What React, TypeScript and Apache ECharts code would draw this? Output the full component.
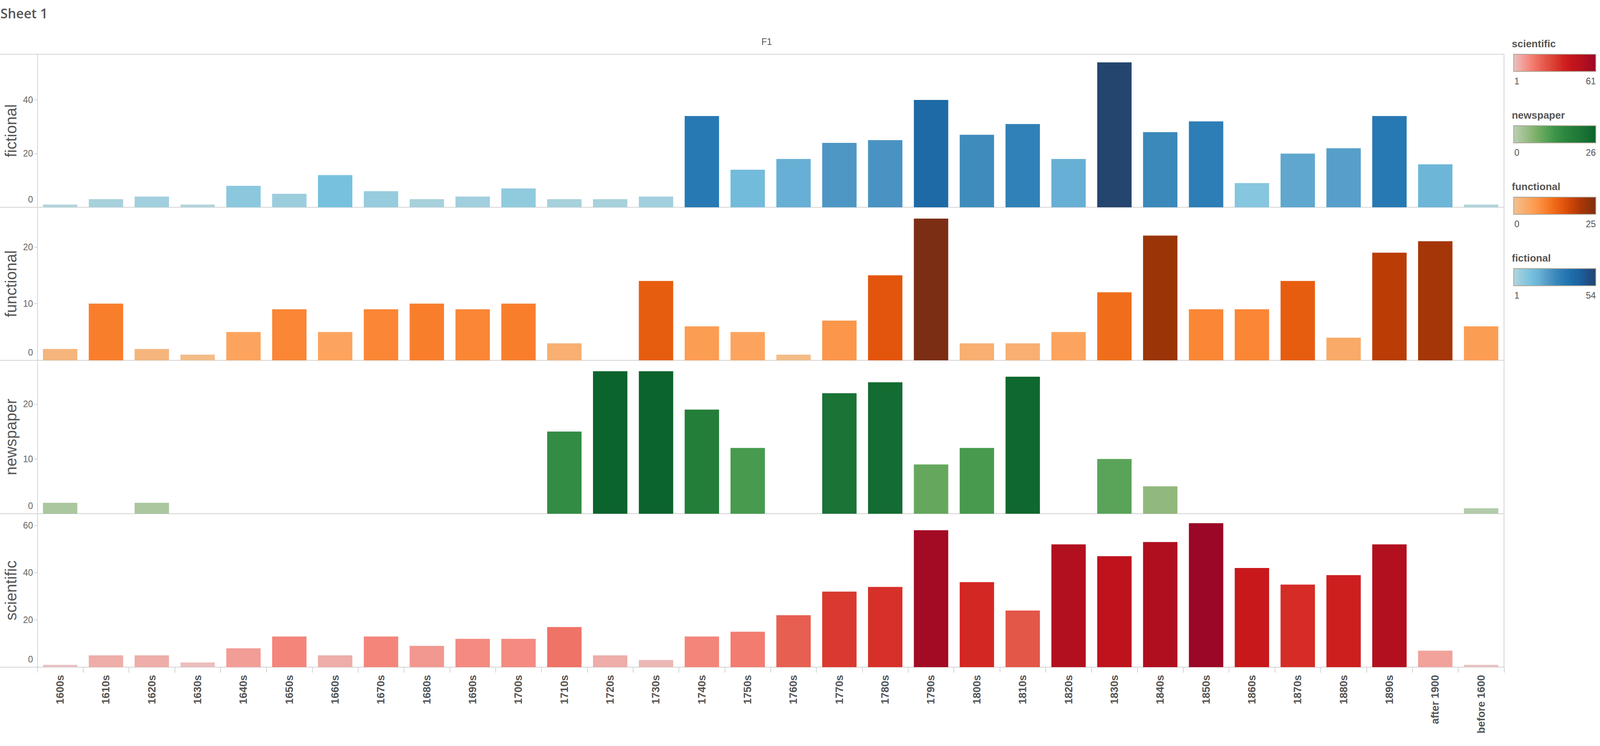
import React, { useEffect, useRef, useState } from "react";
import * as echarts from "echarts";

// ---------- data ----------
const categories = [
  "1600s", "1610s", "1620s", "1630s", "1640s", "1650s", "1660s", "1670s",
  "1680s", "1690s", "1700s", "1710s", "1720s", "1730s", "1740s", "1750s",
  "1760s", "1770s", "1780s", "1790s", "1800s", "1810s", "1820s", "1830s",
  "1840s", "1850s", "1860s", "1870s", "1880s", "1890s", "after 1900", "before 1600",
];

const fictional = [1, 3, 4, 1, 8, 5, 12, 6, 3, 4, 7, 3, 3, 4, 34, 14, 18, 24, 25, 40, 27, 31, 18, 54, 28, 32, 9, 20, 22, 34, 16, 1];
const functional = [2, 10, 2, 1, 5, 9, 5, 9, 10, 9, 10, 3, 0, 14, 6, 5, 1, 7, 15, 25, 3, 3, 5, 12, 22, 9, 9, 14, 4, 19, 21, 6];
const newspaper = [2, null, 2, null, null, null, null, null, null, null, null, 15, 26, 26, 19, 12, null, 22, 24, 9, 12, 25, null, 10, 5, null, null, null, null, null, null, 1];
const scientific = [1, 5, 5, 2, 8, 13, 5, 13, 9, 12, 12, 17, 5, 3, 13, 15, 22, 32, 34, 58, 36, 24, 52, 47, 53, 61, 42, 35, 39, 52, 7, 1];

const rowNames = ["fictional", "functional", "newspaper", "scientific"];
const rowData = [fictional, functional, newspaper, scientific];
const axisMax = [57, 27, 28, 65];
const axisInterval = [20, 10, 10, 20];
const tickValues = [[0, 20, 40], [0, 10, 20], [0, 10, 20], [0, 20, 40, 60]];

// colour ranges (legend min / max)
const colorMin = [1, 0, 0, 1];
const colorMax = [54, 25, 26, 61];

const fictionalColors = ["#b3d5dc", "#94cbdd", "#79c2df", "#6bb3d7", "#569ec9", "#3d8abb", "#2a7cb5", "#1e6eaa", "#1b63a0", "#1f5088", "#24456e"];
const functionalColors = ["#f1c292", "#f6b277", "#fca45e", "#fc9345", "#f87e2c", "#ee6a17", "#e3550c", "#cc4507", "#af3805", "#963409", "#7c2e15"];
const newspaperColors = ["#bacfb5", "#a5c498", "#8fb87b", "#72ad63", "#56a257", "#3d9549", "#2f8941", "#25803b", "#1f7837", "#166e32", "#0b642d"];
const scientificColors = ["#e8c3c3", "#f1a29b", "#f4857a", "#ed6a5c", "#e15345", "#da3d31", "#d22321", "#c6161b", "#ba121d", "#ab0d21", "#9b0726"];
const rowColors = [fictionalColors, functionalColors, newspaperColors, scientificColors];

// legend order (top to bottom)
const legendOrder = [3, 2, 1, 0];

// ---------- layout (reference pixels, mapped onto the viewport) ----------
const REF_W = 7602;
const REF_H = 1911;
const PLOT_LEFT = 139;
const PLOT_RIGHT = 7146;
const gridTops = [139, 531, 923, 1316];
const gridHeights = [392, 392, 393, 393];
const LINE = "#d4d4d4";
const TEXT = "#555555";
const FONT = "'Liberation Sans', Arial, sans-serif";

function buildOption(sx: number, sy: number) {
  const px = (v: number) => v * sx;
  const py = (v: number) => v * sy;
  const f = Math.sqrt(sx * sy);

  const grids = gridTops.map((t, i) => ({
    left: px(PLOT_LEFT),
    right: px(REF_W - PLOT_RIGHT),
    top: py(t),
    height: py(gridHeights[i]),
    containLabel: false,
  }));

  const xAxes = rowNames.map((_, i) => {
    const last = i === rowNames.length - 1;
    return {
      type: "category",
      gridIndex: i,
      data: categories,
      axisLine: { show: false },
      axisTick: last
        ? { show: true, length: py(14), lineStyle: { color: LINE, width: 2 } }
        : { show: false },
      axisLabel: last
        ? {
            show: true,
            rotate: 90,
            margin: py(20),
            fontSize: 27,
            fontWeight: "bold",
            color: TEXT,
            fontFamily: FONT,
            interval: 0,
          }
        : { show: false },
      splitLine: { show: false },
    };
  });

  const tickFont = Math.round(31 * f);
  const yAxes = rowNames.map((name, i) => ({
    type: "value",
    gridIndex: i,
    min: 0,
    max: axisMax[i],
    interval: axisInterval[i],
    name,
    nameLocation: "middle",
    nameRotate: 90,
    nameGap: 36,
    nameTextStyle: { fontSize: 40, color: TEXT, fontFamily: FONT },
    axisLine: { show: true, lineStyle: { color: LINE, width: 2 } },
    axisTick: {
      show: true,
      length: px(14),
      customValues: tickValues[i],
      lineStyle: { color: LINE, width: 2 },
    },
    axisLabel: {
      show: true,
      customValues: tickValues[i],
      margin: px(20),
      fontSize: tickFont,
      color: "#666666",
      fontFamily: FONT,
      formatter: (v: number) => (v === 0 ? "{z|0}" : String(v)),
      rich: {
        z: { padding: [0, 0, py(40), 0], fontSize: tickFont, color: "#666666", fontFamily: FONT },
      },
    },
    splitLine: { show: false },
  }));

  const series = rowNames.map((name, i) => ({
    type: "bar",
    name,
    xAxisIndex: i,
    yAxisIndex: i,
    data: rowData[i],
    barCategoryGap: "25%",
  }));

  const visualMaps = rowNames.map((_, i) => ({
    type: "continuous",
    show: false,
    seriesIndex: i,
    min: colorMin[i],
    max: colorMax[i],
    inRange: { color: rowColors[i] },
  }));

  const graphic: any[] = [];
  graphic.push({
    type: "text",
    x: px(2),
    y: py(34),
    style: {
      text: "Sheet 1",
      font: `600 ${Math.round(46 * f)}px 'Open Sans', sans-serif`,
      fill: TEXT,
      textVerticalAlign: "middle",
    },
  });
  graphic.push({
    type: "text",
    x: px((PLOT_LEFT + PLOT_RIGHT) / 2),
    y: py(107),
    style: {
      text: "F1",
      font: `${Math.round(31 * f)}px ${FONT}`,
      fill: TEXT,
      textAlign: "center",
      textVerticalAlign: "middle",
    },
  });
  const hLines = [...gridTops, gridTops[3] + gridHeights[3]];
  hLines.forEach((y) => {
    graphic.push({
      type: "line",
      shape: { x1: 0, y1: py(y), x2: px(PLOT_RIGHT), y2: py(y) },
      style: { stroke: LINE, lineWidth: 2 },
      z: 0,
    });
  });
  graphic.push({
    type: "line",
    shape: { x1: px(PLOT_RIGHT), y1: py(gridTops[0]), x2: px(PLOT_RIGHT), y2: py(hLines[4]) },
    style: { stroke: LINE, lineWidth: 2 },
    z: 0,
  });

  const LEG_X = 7183;
  const BAR_X = 7192;
  const BAR_W = 390;
  const legTitleFont = Math.round(35 * f);
  const legLabelFont = Math.round(31 * f);
  legendOrder.forEach((idx, k) => {
    const y0 = k * 183;
    const cols = rowColors[idx];
    graphic.push({
      type: "text",
      x: px(LEG_X),
      y: py(112 + y0),
      style: {
        text: rowNames[idx],
        font: `bold ${legTitleFont}px ${FONT}`,
        fill: TEXT,
        textVerticalAlign: "middle",
      },
    });
    graphic.push({
      type: "rect",
      shape: { x: px(BAR_X), y: py(139 + y0), width: px(BAR_W), height: py(44) },
      style: {
        fill: {
          type: "linear",
          x: 0,
          y: 0,
          x2: 1,
          y2: 0,
          colorStops: cols.map((c, j) => ({ offset: j / (cols.length - 1), color: c })),
        },
        stroke: "#aca595",
        lineWidth: 2,
      },
    });
    graphic.push({
      type: "text",
      x: px(BAR_X + 3),
      y: py(208 + y0),
      style: {
        text: String(colorMin[idx]),
        font: `${legLabelFont}px ${FONT}`,
        fill: TEXT,
        textVerticalAlign: "middle",
      },
    });
    graphic.push({
      type: "text",
      x: px(BAR_X + BAR_W),
      y: py(208 + y0),
      style: {
        text: String(colorMax[idx]),
        font: `${legLabelFont}px ${FONT}`,
        fill: TEXT,
        textAlign: "right",
        textVerticalAlign: "middle",
      },
    });
  });

  return {
    animation: false,
    backgroundColor: "#ffffff",
    textStyle: { fontFamily: FONT },
    grid: grids,
    xAxis: xAxes,
    yAxis: yAxes,
    visualMap: visualMaps,
    series,
    graphic,
  };
}

export default function App() {
  const ref = useRef<HTMLDivElement>(null);
  const [size] = useState(() => {
    const w = document.documentElement.clientWidth || window.innerWidth || REF_W;
    const h = window.innerHeight || document.documentElement.clientHeight || REF_H;
    return { w, h };
  });

  useEffect(() => {
    document.body.style.margin = "0";
    document.body.style.overflow = "hidden";
    if (!ref.current) return;
    const chart = echarts.init(ref.current, undefined, { renderer: "svg" });
    chart.setOption(buildOption(size.w / REF_W, size.h / REF_H) as any);
    return () => {
      chart.dispose();
    };
  }, [size]);

  return <div ref={ref} style={{ width: size.w, height: size.h }} />;
}
